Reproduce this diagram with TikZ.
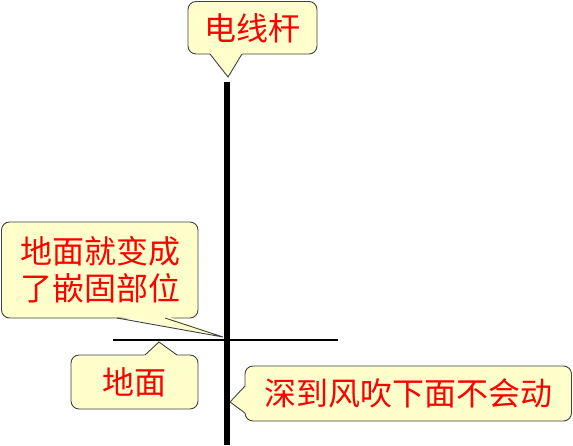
\documentclass[tikz,border=0pt]{standalone}
\usepackage{fontspec}
\newfontfamily\cjk{Noto Sans CJK SC}
\definecolor{callfill}{HTML}{FFFFCC}
\definecolor{calledge}{HTML}{404040}
\begin{document}
\begin{tikzpicture}[x=1pt,y=-1pt,
  cbox/.style={draw=calledge, fill=callfill, rounded corners=8pt, line width=0.9pt},
  ctail/.style={fill=callfill},
  cedge/.style={draw=calledge, line width=0.9pt, line join=miter},
  ctxt/.style={text=red, font=\cjk\fontsize{32}{37}\selectfont, align=center, inner sep=0pt}]
\useasboundingbox (0,0) rectangle (573,445);
% pole and ground
\draw[line width=5.5pt] (227,82) -- (227,445);
\draw[line width=1.5pt] (113,340) -- (338,340);
% callout 1
\coordinate (p1) at (228,77);
\path[cbox] (188,1.5) rectangle (317,54);
\fill[ctail] (209,52) -- (p1) -- (243,52) -- cycle;
\draw[cedge] (210,54) -- (p1) -- (242,54);
\node[ctxt] (t1) at (252.5,28) {电线杆};
% callout 2
\coordinate (p2) at (223,337);
\path[cbox] (1.5,222) rectangle (198,318);
\fill[ctail] (115,316) -- (p2) -- (167,316) -- cycle;
\draw[cedge] (117,318) -- (p2) -- (165,318);
\node[ctxt] (t2) at (100,270) {地面就变成\\了嵌固部位};
% callout 3
\coordinate (p3) at (159,342);
\path[cbox] (71,355) rectangle (198,409);
\fill[ctail] (143,357) -- (p3) -- (179,357) -- cycle;
\draw[cedge] (145,355) -- (p3) -- (177,355);
\node[ctxt] (t3) at (134.5,382) {地面};
% callout 4
\coordinate (p4) at (230,402);
\path[cbox] (245,366) rectangle (571.5,421);
\fill[ctail] (247,385) -- (p4) -- (247,414) -- cycle;
\draw[cedge] (245,386) -- (p4) -- (245,413);
\node[ctxt] (t4) at (408.5,393.5) {深到风吹下面不会动};
\end{tikzpicture}
\end{document}
